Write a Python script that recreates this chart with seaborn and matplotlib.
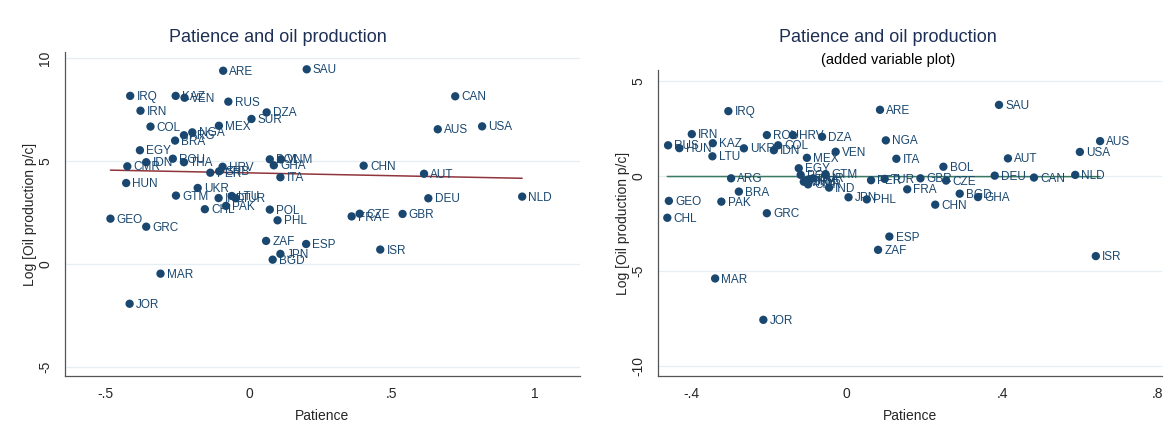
import seaborn as sns
import matplotlib.pyplot as plt
import pandas as pd
import matplotlib
matplotlib.use('Agg')

# left panel: raw patience vs log oil production per capita
left_iso = ["ARE", "SAU", "IRQ", "KAZ", "VEN", "RUS", "IRN", "DZA", "SUR", "MEX",
            "COL", "NGA", "ARG", "BRA", "EGY", "ROU", "IDN", "THA", "CMR", "HRV",
            "PER", "SRB", "BOL", "VNM", "GHA", "ITA", "CHN", "AUT", "CAN", "AUS",
            "USA", "NLD", "DEU", "GBR", "CZE", "FRA", "ISR", "ESP", "ZAF", "POL",
            "PHL", "JPN", "BGD", "MAR", "JOR", "GEO", "GRC", "HUN", "UKR", "GTM",
            "IND", "LTU", "TUR", "PAK", "CHL"]
left_x = [-0.090, 0.202, -0.415, -0.256, -0.225, -0.072, -0.379, 0.062, 0.009, -0.105,
          -0.344, -0.198, -0.227, -0.258, -0.381, -0.266, -0.359, -0.227, -0.425, -0.092,
          -0.135, -0.104, 0.073, 0.112, 0.087, 0.110, 0.401, 0.612, 0.721, 0.660,
          0.815, 0.955, 0.627, 0.537, 0.387, 0.359, 0.459, 0.200, 0.060, 0.073,
          0.100, 0.110, 0.083, -0.309, -0.417, -0.484, -0.359, -0.429, -0.179, -0.255,
          -0.106, -0.060, -0.046, -0.080, -0.154]
left_y = [9.38, 9.45, 8.16, 8.16, 8.07, 7.88, 7.44, 7.36, 7.04, 6.71,
          6.67, 6.39, 6.25, 5.99, 5.52, 5.11, 4.94, 4.94, 4.74, 4.72,
          4.43, 4.50, 5.08, 5.08, 4.79, 4.21, 4.77, 4.38, 8.14, 6.54,
          6.68, 3.27, 3.19, 2.43, 2.44, 2.31, 0.70, 0.97, 1.12, 2.64,
          2.12, 0.49, 0.21, -0.47, -1.93, 2.20, 1.81, 3.93, 3.69, 3.32,
          3.20, 3.30, 3.19, 2.82, 2.66]

# right panel: added variable plot (residuals)
right_iso = ["IRQ", "IRN", "RUS", "HUN", "KAZ", "LTU", "UKR", "ROU", "HRV", "COL",
             "IDN", "DZA", "MEX", "VEN", "EGY", "ARG", "BRA", "GEO", "PAK", "CHL",
             "GRC", "POL", "THA", "SRB", "CMR", "SUR", "GTM", "VNM", "IND", "ARE",
             "SAU", "NGA", "ITA", "AUS", "USA", "AUT", "BOL", "DEU", "CAN", "NLD",
             "GBR", "CZE", "PER", "TUR", "FRA", "BGD", "GHA", "CHN", "JPN", "PHL",
             "ESP", "ZAF", "ISR", "MAR", "JOR"]
right_x = [-0.304, -0.398, -0.459, -0.430, -0.344, -0.345, -0.264, -0.205, -0.138, -0.176,
           -0.187, -0.063, -0.102, -0.028, -0.123, -0.297, -0.277, -0.457, -0.322, -0.461,
           -0.205, -0.118, -0.096, -0.103, -0.099, -0.086, -0.054, -0.110, -0.045, 0.086,
           0.392, 0.101, 0.128, 0.652, 0.600, 0.415, 0.249, 0.381, 0.482, 0.588,
           0.190, 0.256, 0.063, 0.098, 0.156, 0.291, 0.338, 0.228, 0.005, 0.052,
           0.110, 0.081, 0.641, -0.338, -0.214]
right_y = [3.42, 2.21, 1.62, 1.47, 1.73, 1.04, 1.46, 2.16, 2.16, 1.62,
           1.36, 2.07, 0.96, 1.28, 0.41, -0.12, -0.82, -1.31, -1.35, -2.20,
           -1.96, 0.06, -0.17, -0.24, -0.44, -0.12, 0.10, -0.30, -0.61, 3.49,
           3.75, 1.88, 0.91, 1.84, 1.27, 0.93, 0.49, 0.02, -0.08, 0.06,
           -0.12, -0.24, -0.22, -0.15, -0.70, -0.93, -1.11, -1.51, -1.12, -1.23,
           -3.19, -3.89, -4.22, -5.40, -7.58]

navy = "#1a476f"
sns.set_style("white")
plt.rcParams['font.family'] = ['Liberation Sans', 'DejaVu Sans']

fig = plt.figure(figsize=(11.66, 4.28), dpi=100)
ax1 = fig.add_axes([0.0557, 0.1215, 0.4417, 0.757])
ax2 = fig.add_axes([0.5643, 0.1215, 0.4322, 0.715])


def panel(ax, iso, x, y, line_color, xticks, xlabels, yticks, xlim, ylim):
    df = pd.DataFrame({"iso": iso, "patience": x, "oil": y})
    for yt in yticks:
        ax.axhline(yt, color="#e6eef1", lw=0.9, zorder=0)
    sns.regplot(data=df, x="patience", y="oil", ax=ax, scatter=False, ci=None,
                line_kws={"color": line_color, "lw": 1.1, "zorder": 2})
    sns.scatterplot(data=df, x="patience", y="oil", ax=ax, color=navy, s=36,
                    edgecolor="none", zorder=3)
    for _, r in df.iterrows():
        ax.annotate(r["iso"], (r["patience"], r["oil"]), xytext=(4.5, -0.8),
                    textcoords="offset points", va="center", ha="left",
                    fontsize=8.5, color=navy, zorder=4)
    ax.set_xlim(*xlim)
    ax.set_ylim(*ylim)
    ax.set_xticks(xticks)
    ax.set_xticklabels(xlabels)
    ax.set_yticks(yticks)
    ax.set_yticklabels([str(t) for t in yticks], rotation=90, va="center")
    ax.tick_params(axis="both", direction="out", length=5, width=0.8,
                   color="#333333", labelsize=10, pad=3)
    ax.tick_params(axis="y", pad=4)
    for s in ["top", "right"]:
        ax.spines[s].set_visible(False)
    for s in ["left", "bottom"]:
        ax.spines[s].set_color("#555555")
        ax.spines[s].set_linewidth(0.9)
    ax.set_xlabel("Patience", fontsize=10, labelpad=6)
    ax.set_ylabel("Log [Oil production p/c]", fontsize=10, labelpad=1)


panel(ax1, left_iso, left_x, left_y, "#90353b", [-0.5, 0, 0.5, 1], ["-.5", "0", ".5", "1"],
      [-5, 0, 5, 10], (-0.643, 1.157), (-5.437, 10.29))
panel(ax2, right_iso, right_x, right_y, "#3a7a62", [-0.4, 0, 0.4, 0.8], ["-.4", "0", ".4", ".8"],
      [-10, -5, 0, 5], (-0.485, 0.811), (-10.54, 5.59))

fig.text(278 / 1166, 1 - 37 / 428, "Patience and oil production", ha="center", va="center",
         fontsize=13, color="#1e2f55")
fig.text(888 / 1166, 1 - 37 / 428, "Patience and oil production", ha="center", va="center",
         fontsize=13, color="#1e2f55")
fig.text(888 / 1166, 1 - 60 / 428, "(added variable plot)", ha="center", va="center",
         fontsize=10.5, color="black")

fig.savefig("out.png", dpi=100, facecolor="white")
